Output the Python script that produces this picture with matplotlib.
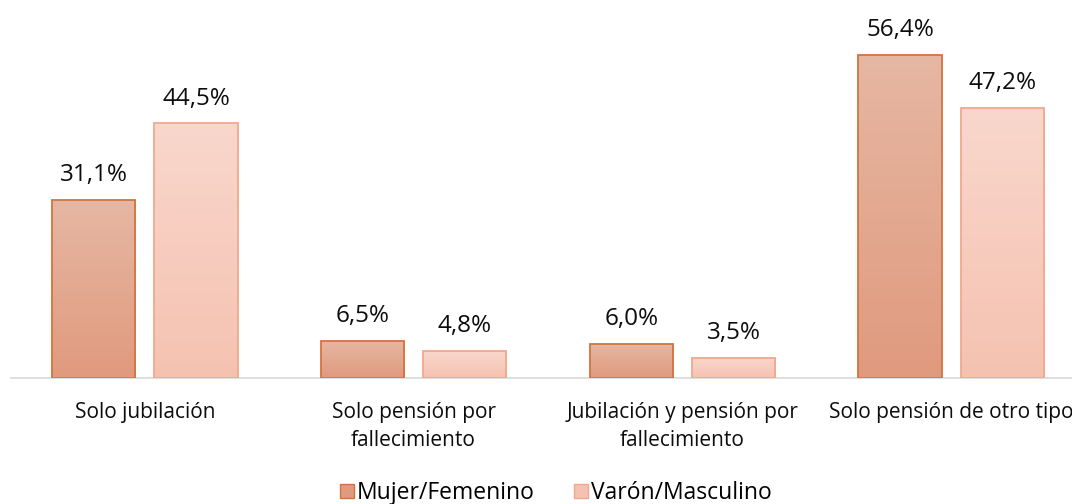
import matplotlib
matplotlib.use("Agg")
import matplotlib.pyplot as plt
import numpy as np
from matplotlib.colors import LinearSegmentedColormap
from matplotlib.patches import Patch

categories = ["Solo jubilación", "Solo pensión por\nfallecimiento",
              "Jubilación y pensión por\nfallecimiento", "Solo pensión de otro tipo"]
mujer = [31.1, 6.5, 6.0, 56.4]
varon = [44.5, 4.8, 3.5, 47.2]
series_names = ["Mujer/Femenino", "Varón/Masculino"]

plt.rcParams['font.family'] = ['Open Sans', 'DejaVu Sans']

fig = plt.figure(figsize=(10.72, 5.04), dpi=100)
ax = fig.add_axes([10.5 / 1072, 126 / 504, 1075 / 1072, 358 / 504])

x = np.arange(len(categories))
w = 0.31
off = 0.19
grad = {
    0: ("#E6B7A3", "#E09A7E", "#D5733F"),
    1: ("#F9D7CC", "#F5C2B1", "#F0A88E"),
}

ymax = 358 / 5.727

for si, vals in enumerate([mujer, varon]):
    top_c, bot_c, edge_c = grad[si]
    cmap = LinearSegmentedColormap.from_list("g%d" % si, [bot_c, top_c])
    bars = ax.bar(x + (-off if si == 0 else off), vals, width=w,
                  facecolor="none", edgecolor=edge_c, linewidth=1.3, zorder=3)
    for b, v in zip(bars, vals):
        x0, y0 = b.get_x(), b.get_y()
        bw, bh = b.get_width(), b.get_height()
        img = ax.imshow(np.linspace(0, 1, 256).reshape(-1, 1), cmap=cmap,
                        extent=[x0, x0 + bw, y0, y0 + bh], origin="lower",
                        aspect="auto", zorder=2)
        img.set_clip_path(b)
        ax.annotate(f"{v:.1f}%".replace(".", ","), (x0 + bw / 2, bh),
                    xytext=(0, 9), textcoords="offset points",
                    ha="center", va="bottom", fontsize=17.5, color="#0d0d0d")

ax.set_xlim(-0.5, 3.5)
ax.set_ylim(0, ymax)

for s in ["top", "right", "left"]:
    ax.spines[s].set_visible(False)
ax.spines["bottom"].set_color("#d9d9d9")
ax.spines["bottom"].set_linewidth(1.2)
ax.set_yticks([])
ax.set_xticks(x)
ax.set_xticklabels(categories, fontsize=15, color="#0d0d0d", linespacing=1.45)
ax.tick_params(axis="x", length=0, pad=17)

handles = [Patch(facecolor=grad[i][1], edgecolor=grad[i][2], label=series_names[i])
           for i in range(2)]
fig.legend(handles=handles, loc="center", bbox_to_anchor=(556 / 1072, 1 - 493 / 504),
           ncol=2, frameon=False, fontsize=16.5, handlelength=0.6, handleheight=0.6,
           handletextpad=0.15, columnspacing=1.7, borderpad=0)

fig.savefig("out.png", dpi=100)
